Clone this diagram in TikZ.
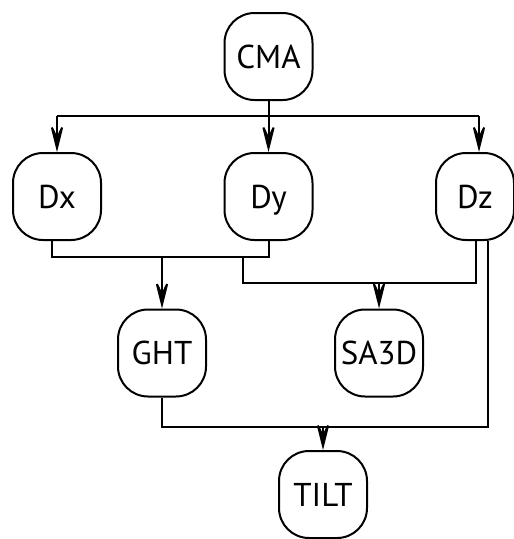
\documentclass[tikz,border=0pt]{standalone}
\usepackage{fontspec}
\setmainfont{PT Sans}
\usetikzlibrary{arrows.meta}

\begin{document}
\begin{tikzpicture}[x=1pt,y=-1pt,line width=2pt,
	box/.style={draw,rounded corners=30pt,minimum width=88pt,minimum height=87pt,
		inner sep=0pt,text height=23pt,text depth=0pt,font=\fontsize{33}{38}\selectfont},
	flow/.style={-{Stealth[length=34pt,width=17pt,inset=18pt]}}]

\useasboundingbox (0,0) rectangle (514,539);

% the boxes
\node[box] at (268.5,56.5) (cma) {CMA};

\node[box] at (57,196.5) (dx) {Dx};
\node[box] at (268.5,196.5) (dy) {Dy};
\node[box,minimum width=78pt] at (475,196.5) (dz) {Dz};

\node[box] at (162,353) (ght) {GHT};
\node[box] at (379,353) (sa3d) {SA3D};

\node[box] at (323,494.5) (tilt) {TILT};

% junctions
\coordinate (top) at (268.5,116);
\coordinate (jxy) at (162,257);
\coordinate (tap) at (243,257);
\coordinate (jyz) at (379,283);
\coordinate (jt) at (323,427);

% CMA feeds the three derivatives
\draw (cma.south) -- (top);
\draw (dx.north |- top) -- ([xshift=4pt]dz.north |- top);
\draw[flow] (dx.north |- top) -- (dx.north);
\draw[flow] (top) -- (dy.north);
\draw[flow] ([xshift=4pt]dz.north |- top) -- ([xshift=4pt]dz.north);

% Dx, Dy -> GHT
\draw ([xshift=-5pt]dx.south) |- (jxy) -| (dy.south);
\draw[flow] (jxy) -- (ght.north);

% Dy, Dz -> SA3D
\draw (tap) |- (jyz) -| ([xshift=1pt]dz.south);
\draw[flow] (jyz) -- (sa3d.north);

% GHT, Dz -> TILT
\draw (ght.south) |- (jt) -| ([xshift=13pt]dz.south);
\draw[flow] (jt) -- (tilt.north);

\end{tikzpicture}
\end{document}
